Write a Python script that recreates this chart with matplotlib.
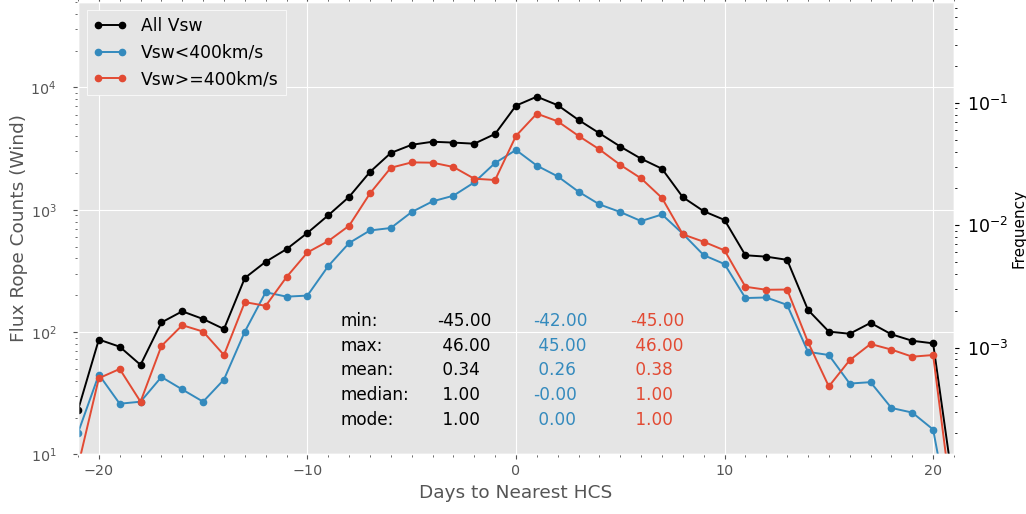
#!/usr/bin/env python3
# -*- coding: utf-8 -*-

import matplotlib
matplotlib.use("Agg")
from matplotlib import pyplot as plt
from matplotlib.ticker import MultipleLocator

plt.style.use('ggplot')

# flux rope counts per day offset from the nearest HCS crossing
days = list(range(-21, 22))
counts_all = [23, 87, 76, 54, 120, 148, 128, 106, 277, 376, 477,
              647, 902, 1276, 2039, 2917, 3400, 3600, 3543, 3470, 4169, 7102,
              8407, 7163, 5424, 4225, 3288, 2615, 2166, 1267, 974, 826,
              425, 414, 390, 152, 101, 97, 119, 96, 85, 81, 5]
counts_slow = [15, 45, 26, 27, 43, 34, 27, 41, 101, 212, 195,
               199, 347, 535, 678, 710, 959, 1172, 1304, 1675, 2416, 3084,
               2297, 1876, 1406, 1107, 959, 809, 916, 637, 426, 360,
               190, 192, 167, 69, 65, 38, 39, 24, 22, 16, 2]
counts_fast = [8, 42, 50, 27, 77, 114, 101, 65, 176, 164, 282,
               448, 555, 741, 1361, 2207, 2441, 2428, 2239, 1795, 1753, 4018,
               6110, 5287, 4018, 3118, 2329, 1806, 1250, 630, 548, 466,
               235, 222, 223, 83, 36, 59, 80, 72, 63, 65, 3]
n_total = 74800  # every event, also those outside +-21 days

stat_names = ['min:', 'max:', 'mean:', 'median:', 'mode:']
stats_all = [-45.0, 46.0, 0.34, 1.0, 1.0]
stats_slow = [-42.0, 45.0, 0.26, -0.0, 0.0]
stats_fast = [-45.0, 46.0, 0.38, 1.0, 1.0]

c_all = 'black'
c_slow = '#348ABD'
c_fast = '#E24A33'

fig = plt.figure(figsize=(10.26, 5.14), dpi=100)
ax = fig.add_axes([0.0760, 0.1158, 0.8538, 0.8804])

ax.plot(days, counts_all, '-o', color=c_all, lw=1.4, ms=4.5, label='All Vsw')
ax.plot(days, counts_slow, '-o', color=c_slow, lw=1.4, ms=4.5, label='Vsw<400km/s')
ax.plot(days, counts_fast, '-o', color=c_fast, lw=1.4, ms=4.5, label='Vsw>=400km/s')

ax.set_yscale('log')
ax.set_xlim(-21, 21)
ax.set_ylim(10, 5e4)
ax.xaxis.set_major_locator(MultipleLocator(10))
ax.xaxis.set_minor_locator(MultipleLocator(1))
ax.tick_params(axis='x', which='both', top=True)
ax.tick_params(axis='both', labelsize=10.3)
ax.tick_params(axis='y', which='major', pad=12)
ax.set_xlabel('Days to Nearest HCS', fontsize=13.3)
ax.set_ylabel('Flux Rope Counts (Wind)', fontsize=13.3, labelpad=2)

ax.legend(loc='upper left', numpoints=2, fontsize=12.3, fancybox=False,
          edgecolor='white', facecolor='#E5E5E5', framealpha=1)

# summary statistics table
rows_y = [0.295, 0.240, 0.186, 0.131, 0.077]
for i, name in enumerate(stat_names):
	ax.text(0.30, rows_y[i], name, transform=ax.transAxes, va='center',
		fontsize=12.2, color='black')
	ax.text(0.41, rows_y[i], '% .2f' % stats_all[i], transform=ax.transAxes,
		va='center', fontsize=12.2, color=c_all)
	ax.text(0.52, rows_y[i], '% .2f' % stats_slow[i], transform=ax.transAxes,
		va='center', fontsize=12.2, color=c_slow)
	ax.text(0.63, rows_y[i], '% .2f' % stats_fast[i], transform=ax.transAxes,
		va='center', fontsize=12.2, color=c_fast)

# frequency axis on the right
ax2 = ax.twinx()
ax2.set_yscale('log')
lo, hi = ax.get_ylim()
ax2.set_ylim(lo / n_total, hi / n_total)
ax2.grid(False)
ax2.tick_params(axis='y', which='both', colors='black', labelsize=12.5)
ax2.tick_params(axis='y', which='major', pad=6)
ax2.set_ylabel('Frequency', color='black', fontsize=11, labelpad=2)

fig.savefig("out.png", format='png', dpi=100)
